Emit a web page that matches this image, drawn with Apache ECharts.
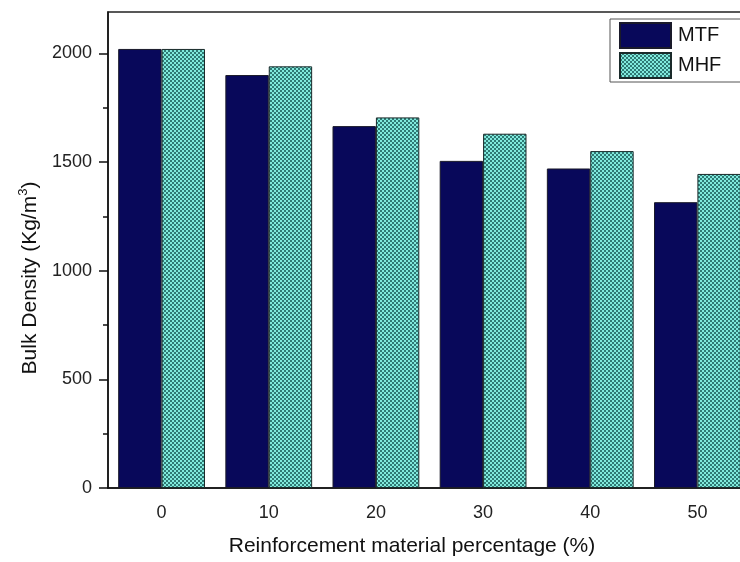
<!DOCTYPE html>
<html>
<head>
<meta charset="utf-8">
<script src="https://cdn.jsdelivr.net/npm/echarts@6/dist/echarts.min.js"></script>
<style>html,body{margin:0;padding:0;background:#fff;}#c{width:740px;height:562px;}</style>
</head>
<body>
<div id="c"></div>
<script>
const categories = ['0', '10', '20', '30', '40', '50'];
const mtf = [2020, 1900, 1665, 1505, 1470, 1315];
const mhf = [2020, 1940, 1705, 1630, 1550, 1445];
const yMajorTicks = [0, 500, 1000, 1500, 2000];
const yMinorTicks = [250, 750, 1250, 1750];

const pc = document.createElement('canvas');
pc.width = 4; pc.height = 4;
const g = pc.getContext('2d');
g.fillStyle = '#2f7a75'; g.fillRect(0, 0, 4, 4);
g.fillStyle = '#80eadd'; g.fillRect(0, 0, 2, 2); g.fillRect(2, 2, 2, 2);

const font = '"Liberation Sans", Arial, sans-serif';
const chart = echarts.init(document.getElementById('c'), null, {renderer: 'canvas'});
chart.setOption({
  animation: false,
  grid: {left: 108, top: 12, width: 643, bottom: 74, show: true, borderColor: '#222', borderWidth: 1.5,
    containLabel: false, outerBoundsMode: 'none'},
  legend: {
    orient: 'vertical', left: 610, top: 19,
    itemWidth: 51, itemHeight: 25, itemGap: 3,
    padding: [3, 60, 3, 9],
    borderColor: '#555', borderWidth: 1,
    icon: 'rect',
    textStyle: {fontFamily: font, fontSize: 20, color: '#111', padding: [0, 0, 0, 2]},
    data: ['MTF', 'MHF']
  },
  xAxis: [{
    type: 'category', data: categories, position: 'bottom',
    name: 'Reinforcement material percentage (%)', nameLocation: 'middle', nameGap: 48,
    nameTextStyle: {fontFamily: font, fontSize: 21, color: '#111', padding: [0, 35, 0, 0]},
    axisLine: {lineStyle: {color: '#111', width: 1.5}},
    axisTick: {alignWithLabel: true, length: 8, lineStyle: {color: '#111', width: 1.5}},
    axisLabel: {fontFamily: font, fontSize: 18, color: '#222', margin: 16},
    splitLine: {show: false}
  }, {
    type: 'category', data: categories, position: 'bottom',
    axisLine: {show: false},
    axisTick: {alignWithLabel: false, length: 4, lineStyle: {color: '#111', width: 1.5}},
    axisLabel: {show: false},
    splitLine: {show: false}
  }],
  yAxis: [{
    type: 'value', min: 0, max: 2190, interval: 500, position: 'left',
    name: 'Bulk Density (Kg/m{sup|3})', nameLocation: 'middle', nameGap: 64, nameRotate: 90,
    nameTextStyle: {fontFamily: font, fontSize: 21, color: '#111', padding: [0, 56, 0, 0],
      rich: {sup: {fontFamily: font, fontSize: 13, color: '#111', verticalAlign: 'bottom', padding: [0, 0, 14, 0]}}},
    axisLine: {show: true, lineStyle: {color: '#111', width: 1.5}},
    axisTick: {show: true, length: 9, customValues: yMajorTicks, lineStyle: {color: '#111', width: 1.5}},
    axisLabel: {fontFamily: font, fontSize: 18, color: '#222', margin: 16, customValues: yMajorTicks,
      formatter: function (v) { return String(v); }},
    splitLine: {show: false}
  }, {
    type: 'value', min: 0, max: 2190, interval: 500, position: 'left',
    axisLine: {show: false},
    axisTick: {show: true, length: 5, customValues: yMinorTicks, lineStyle: {color: '#111', width: 1.5}},
    axisLabel: {show: false},
    splitLine: {show: false}
  }],
  series: [{
    name: 'MTF', type: 'bar', data: mtf, xAxisIndex: 0, yAxisIndex: 0,
    barGap: '0%', barCategoryGap: '19%',
    itemStyle: {color: '#08085a', borderColor: '#1a1a2a', borderWidth: 1}
  }, {
    name: 'MHF', type: 'bar', data: mhf, xAxisIndex: 0, yAxisIndex: 0,
    barGap: '0%', barCategoryGap: '19%',
    itemStyle: {color: {image: pc, repeat: 'repeat'}, borderColor: '#1a2a2a', borderWidth: 1}
  }]
});
</script>
</body>
</html>
